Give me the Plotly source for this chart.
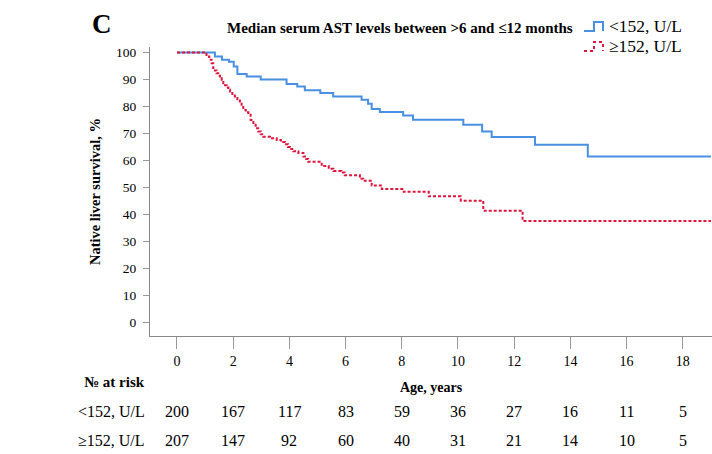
import plotly.graph_objects as go

# ---- data ----
blue_t = [0, 1.35, 1.6, 1.85, 2.02, 2.15, 2.48, 2.98, 3.9, 4.28, 4.55, 5.1, 5.56, 6.57, 6.8, 6.93,
          7.22, 8.05, 8.4, 10.19, 10.86, 11.2, 12.74, 14.62, 19.0]
blue_s = [100, 98.5, 97.3, 96.5, 94.8, 92.0, 91.1, 90.0, 88.3, 87.4, 86.0, 85.0, 83.7, 82.5, 81.0, 79.0,
          77.9, 76.6, 75.1, 73.2, 70.7, 68.7, 65.8, 61.5, 61.5]

red_t = [0, 1.05, 1.15, 1.23, 1.29, 1.35, 1.41, 1.47, 1.53, 1.59, 1.65, 1.71, 1.77, 1.83, 1.89, 1.97,
         2.06, 2.15, 2.24, 2.30, 2.36, 2.45, 2.54, 2.62, 2.72, 2.80, 2.89, 2.98, 3.07, 3.31, 3.55, 3.70,
         3.84, 3.95, 4.02, 4.14, 4.32, 4.50, 4.60, 4.67, 5.15, 5.40, 5.57, 5.85, 5.97, 6.51, 6.63, 6.93,
         7.29, 8.07, 8.96, 10.1, 10.9, 12.3, 19.0]
red_s = [100, 98.5, 97.3, 96.0, 94.2, 93.3, 92.3, 91.4, 90.5, 89.5, 88.6, 87.8, 87.0, 86.2, 85.5, 84.6,
         83.7, 82.7, 81.8, 80.2, 78.7, 77.8, 76.9, 75.0, 73.2, 71.9, 70.7, 69.7, 68.8, 68.2, 67.6, 66.8,
         66.0, 65.0, 64.2, 63.4, 62.8, 61.5, 60.5, 59.5, 57.9, 56.9, 56.1, 55.5, 54.5, 53.2, 52.5, 50.7,
         49.4, 48.4, 46.7, 45.1, 41.4, 37.6, 37.6]

risk_times = [0, 2, 4, 6, 8, 10, 12, 14, 16, 18]
risk_low = [200, 167, 117, 83, 59, 36, 27, 16, 11, 5]
risk_high = [207, 147, 92, 60, 40, 31, 21, 14, 10, 5]
group_labels = ["<152, U/L", "≥152, U/L"]

title_text = "Median serum AST levels between >6 and ≤12 months"
BLUE = "rgb(74,144,226)"
RED = "rgb(222,20,60)"
FONT = "Liberation Serif"

W, H = 712, 454
ML, MR, MT, MB = 150, 0, 47, 118
PW, PH = W - ML - MR, H - MT - MB


def px(xp):
    return (xp - ML) / PW


def py(yp):
    return (H - MB - yp) / PH


fig = go.Figure()
fig.add_trace(go.Scatter(x=blue_t, y=blue_s, mode="lines", line=dict(color=BLUE, width=2, shape="hv"),
                         showlegend=False, hoverinfo="skip"))
fig.add_trace(go.Scatter(x=red_t, y=red_s, mode="lines",
                         line=dict(color=RED, width=2, shape="hv", dash="3px,2px"),
                         showlegend=False, hoverinfo="skip"))

annotations = []
# Panel letter
annotations.append(dict(x=px(102), y=py(24), xref="paper", yref="paper", text="<b>C</b>", showarrow=False,
                        font=dict(family=FONT, size=27, color="black"), xanchor="center", yanchor="middle"))
# Title
annotations.append(dict(x=px(400), y=py(28), xref="paper", yref="paper", text="<b>" + title_text + "</b>",
                        showarrow=False, font=dict(family=FONT, size=15, color="black"),
                        xanchor="center", yanchor="middle"))
# Legend texts
for i, lab in enumerate(group_labels):
    yc = 26 + 20 * i
    annotations.append(dict(x=px(607), y=py(yc), xref="paper", yref="paper", text=lab, showarrow=False,
                            font=dict(family=FONT, size=17.5, color="black"), xanchor="left", yanchor="middle"))
# Number at risk header
annotations.append(dict(x=px(147), y=py(382), xref="paper", yref="paper", text="<b>№ at risk</b>",
                        showarrow=False, font=dict(family=FONT, size=15, color="black"),
                        xanchor="right", yanchor="middle"))
for row, (lab, vals) in enumerate([(group_labels[0], risk_low), (group_labels[1], risk_high)]):
    yc = 411 + 29 * row
    annotations.append(dict(x=px(147), y=py(yc), xref="paper", yref="paper", text=lab, showarrow=False,
                            font=dict(family=FONT, size=16, color="black"), xanchor="right", yanchor="middle"))
    for t, v in zip(risk_times, vals):
        annotations.append(dict(x=t, y=py(yc), xref="x", yref="paper", text=str(v), showarrow=False,
                                font=dict(family=FONT, size=16, color="black"), xanchor="center",
                                yanchor="middle"))

shapes = []
for i, (col, dash) in enumerate([(BLUE, "solid"), (RED, "dot")]):
    yl = 31 + 20 * i
    yh = 22 + 20 * i
    path = "M {a},{b} L {c},{b} L {c},{d} L {e},{d} L {e},{b}".format(
        a=px(584), b=py(yl), c=px(594), d=py(yh), e=px(603))
    shapes.append(dict(type="path", path=path, xref="paper", yref="paper",
                       line=dict(color=col, width=2, dash=dash)))

fig.update_layout(
    width=W, height=H,
    margin=dict(l=ML, r=MR, t=MT, b=MB),
    paper_bgcolor="white", plot_bgcolor="white",
    font=dict(family=FONT, size=13, color="black"),
    annotations=annotations, shapes=shapes,
    xaxis=dict(range=[-0.96, 19.04], tickmode="array", tickvals=risk_times,
               ticks="outside", ticklen=12, tickcolor="#999", showline=True, linecolor="#888",
               linewidth=1, showgrid=False, zeroline=False,
               tickfont=dict(family=FONT, size=14),
               title=dict(text="<b>Age, years</b>", font=dict(family=FONT, size=14), standoff=14)),
    yaxis=dict(range=[-5, 102], tickmode="array", tickvals=list(range(0, 101, 10)),
               ticks="outside", ticklen=6, tickcolor="#999", showline=True, linecolor="#888",
               linewidth=1, showgrid=False, zeroline=False,
               tickfont=dict(family=FONT, size=13.5), ticklabelstandoff=4,
               title=dict(text="<b>Native liver survival, %</b>", font=dict(family=FONT, size=14.5),
                          standoff=11)),
)

fig.write_html("out.html")
